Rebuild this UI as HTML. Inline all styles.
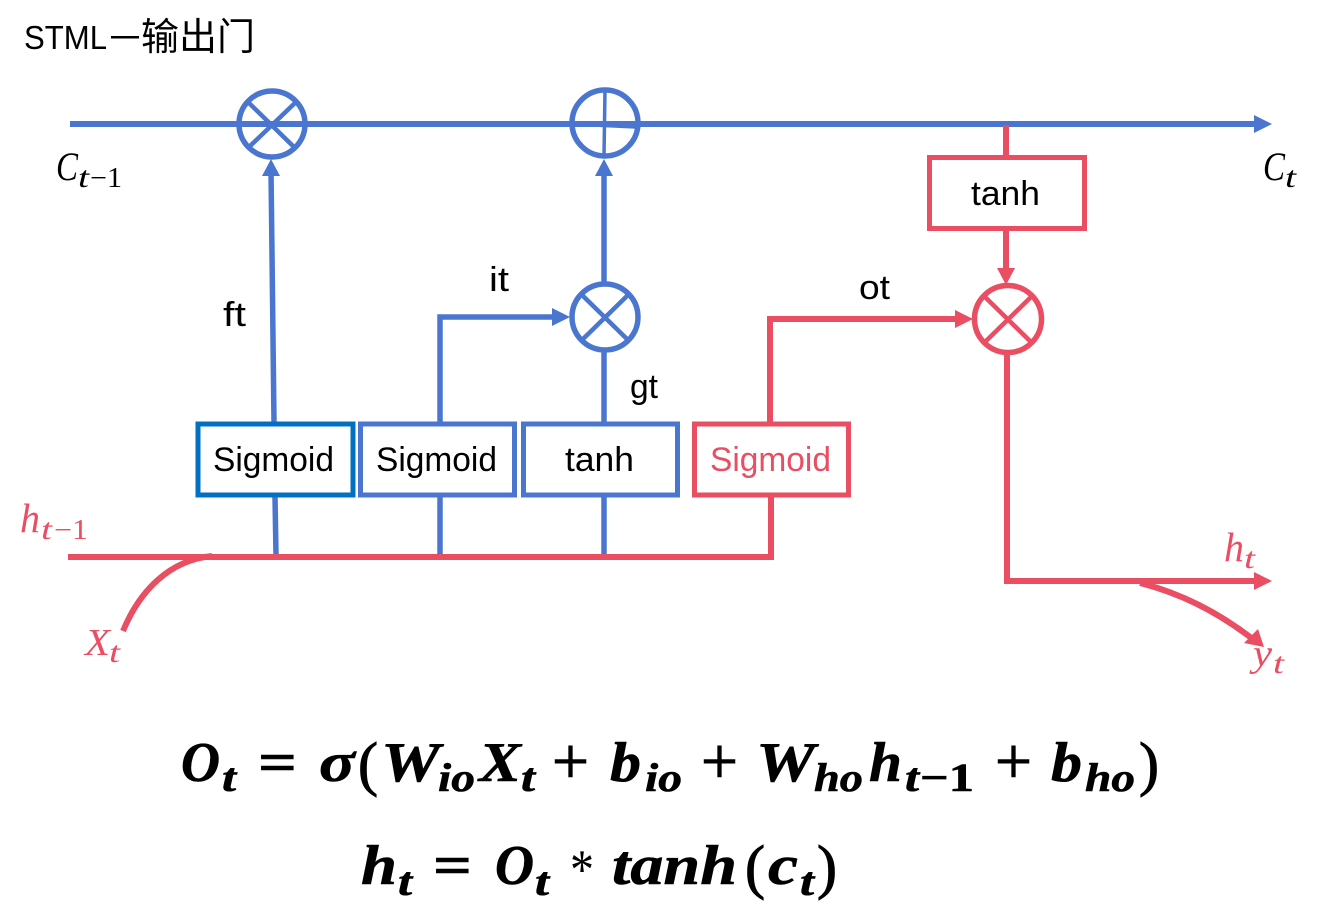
<!DOCTYPE html>
<html><head><meta charset="utf-8"><style>
html,body{margin:0;padding:0;background:#fff}
svg{display:block}
.s{font-family:"Liberation Sans","Noto Sans CJK SC",sans-serif;fill:#000}
.m{font-family:"Liberation Serif",serif;font-style:italic;fill:#000}
.e{font-family:"Liberation Serif",serif;font-style:italic;font-weight:bold;fill:#000;font-size:56px;stroke:#000;stroke-width:.6}
.n{font-style:normal}
.es{font-size:40px}
.big{font-size:66px;font-weight:normal;stroke-width:1}
.par{font-size:60px;font-weight:normal;stroke-width:1}
.b{stroke:#4a76cf;fill:none;stroke-width:5.500px}
.p{stroke:#e94e62;fill:none;stroke-width:6px}
.c5{stroke-width:5.500px}
.c4{stroke-width:4.500px}
.c3{stroke-width:3.500px}
.h6{stroke-width:6px}
.rt{fill:#e94e62}
</style></head><body>
<svg width="1327" height="908" viewBox="0 0 1327 908" xmlns="http://www.w3.org/2000/svg">
<rect width="1327" height="908" fill="#fff"/>
<text class="s" x="24" y="49" font-size="33" textLength="83" lengthAdjust="spacingAndGlyphs">STML</text>
<rect x="111" y="36" width="28" height="2.500" fill="#000"/>
<text class="s" x="141" y="50" font-size="38" textLength="114" lengthAdjust="spacingAndGlyphs">输出门</text>

<!-- blue -->
<path class="b h6" d="M70 124H1256"/>
<path d="M1254 115L1272 124L1254 133Z" fill="#4a76cf"/>
<ellipse class="b c5" cx="272" cy="124" rx="33" ry="33"/>
<path class="b c4" d="M248 102L295 148M296 102L248 148"/>
<ellipse class="b c5" cx="605" cy="123" rx="33" ry="33"/>
<path class="b c3" d="M572 124L636 127M605 90L604 156"/>
<ellipse class="b c5" cx="605" cy="317" rx="33" ry="33"/>
<path class="b c4" d="M582 295L628 340M628 295L582 340"/>
<path class="b" d="M274 422L271 170"/>
<path d="M262 176L271 159L280 176Z" fill="#4a76cf"/>
<path class="b" d="M604 283V172"/>
<path d="M595 176L604 159L613 176Z" fill="#4a76cf"/>
<path class="b" d="M440 422V317H556"/>
<path d="M552 308L570 317L552 326Z" fill="#4a76cf"/>
<path class="b" d="M604 352V422"/>
<path class="b" d="M275 497L276 555M440 497V555M604 497V555"/>

<!-- boxes -->
<rect x="198" y="424" width="155" height="71" fill="none" stroke="#0070c0" stroke-width="5"/>
<rect x="360.500" y="424" width="154" height="71" fill="none" stroke="#4a76cf" stroke-width="5"/>
<rect x="523.500" y="424" width="154" height="71" fill="none" stroke="#4a76cf" stroke-width="5"/>
<rect x="694.500" y="424" width="154" height="71" fill="none" stroke="#e94e62" stroke-width="5"/>
<rect x="929.500" y="157.500" width="155" height="71" fill="none" stroke="#e94e62" stroke-width="5"/>

<!-- red -->
<path class="p" d="M68 557H771V497"/>
<path class="p" d="M770 424V319H958"/>
<path d="M955 310L973 319L955 328Z" fill="#e94e62"/>
<path class="p" d="M1006 125V157M1006 231V272"/>
<path d="M997 268L1006 285L1015 268Z" fill="#e94e62"/>
<ellipse class="p c5" cx="1008" cy="319" rx="33.500" ry="33.500"/>
<path class="p c4" d="M985 297L1031 342M1031 297L985 342"/>
<path class="p" d="M1007 355V581H1256"/>
<path d="M1254 572L1272 581L1254 590Z" fill="#e94e62"/>
<path class="p" d="M123 631C140 590 170 560 212 556"/>
<path class="p" d="M1140 583Q1200 598 1254 640"/>
<path d="M1264 647L1258 629L1244 643Z" fill="#e94e62"/>

<!-- box labels -->
<g font-size="34">
<text class="s" x="213" y="471" textLength="121" lengthAdjust="spacingAndGlyphs">Sigmoid</text>
<text class="s" x="376" y="471" textLength="121" lengthAdjust="spacingAndGlyphs">Sigmoid</text>
<text class="s" x="565" y="471" textLength="69" lengthAdjust="spacingAndGlyphs">tanh</text>
<text class="s rt" x="710" y="471" textLength="121" lengthAdjust="spacingAndGlyphs" style="fill:#e94e62">Sigmoid</text>
<text class="s" x="971" y="205" textLength="69" lengthAdjust="spacingAndGlyphs">tanh</text>
<text class="s" x="223" y="326" textLength="23" lengthAdjust="spacingAndGlyphs">ft</text>
<text class="s" x="489" y="291" textLength="20" lengthAdjust="spacingAndGlyphs">it</text>
<text class="s" x="630" y="398" textLength="28" lengthAdjust="spacingAndGlyphs">gt</text>
<text class="s" x="859" y="299" textLength="31" lengthAdjust="spacingAndGlyphs">ot</text>
</g>

<!-- math labels -->
<text class="m" x="56" y="180" font-size="40" textLength="22" lengthAdjust="spacingAndGlyphs">C</text>
<text class="m" x="78" y="187" font-size="30" textLength="11" lengthAdjust="spacingAndGlyphs">t</text>
<text class="m n" x="90" y="187" font-size="28" textLength="32" lengthAdjust="spacingAndGlyphs">−1</text>
<text class="m" x="1263" y="180" font-size="40" textLength="22" lengthAdjust="spacingAndGlyphs">C</text>
<text class="m" x="1285" y="187" font-size="30" textLength="11" lengthAdjust="spacingAndGlyphs">t</text>
<text class="m rt" x="20" y="532" font-size="41" textLength="20" lengthAdjust="spacingAndGlyphs" style="fill:#e94e62">h</text>
<text class="m rt" x="41" y="539" font-size="30" textLength="11" lengthAdjust="spacingAndGlyphs" style="fill:#e94e62">t</text>
<text class="m n rt" x="54" y="539" font-size="28" textLength="34" lengthAdjust="spacingAndGlyphs" style="fill:#e94e62">−1</text>
<text class="m rt" x="85" y="655" font-size="38" textLength="25" lengthAdjust="spacingAndGlyphs" style="fill:#e94e62">X</text>
<text class="m rt" x="109" y="662" font-size="30" textLength="11" lengthAdjust="spacingAndGlyphs" style="fill:#e94e62">t</text>
<text class="m rt" x="1224" y="561" font-size="41" textLength="20" lengthAdjust="spacingAndGlyphs" style="fill:#e94e62">h</text>
<text class="m rt" x="1244" y="568" font-size="30" textLength="11" lengthAdjust="spacingAndGlyphs" style="fill:#e94e62">t</text>
<text class="m rt" x="1253" y="666" font-size="38" textLength="19" lengthAdjust="spacingAndGlyphs" style="fill:#e94e62">y</text>
<text class="m rt" x="1273" y="673" font-size="30" textLength="11" lengthAdjust="spacingAndGlyphs" style="fill:#e94e62">t</text>

<!-- equation 1 -->
<text class="e" x="181" y="781" textLength="39" lengthAdjust="spacingAndGlyphs">O</text>
<text class="e es" x="222" y="791" textLength="14" lengthAdjust="spacingAndGlyphs">t</text>
<text class="e n" x="258" y="781" textLength="39" lengthAdjust="spacingAndGlyphs">=</text>
<text class="e" x="319" y="781" textLength="36" lengthAdjust="spacingAndGlyphs">σ</text>
<text class="e n par" x="358" y="784" textLength="20" lengthAdjust="spacingAndGlyphs">(</text>
<text class="e" x="381" y="781" textLength="59" lengthAdjust="spacingAndGlyphs">W</text>
<text class="e es" x="438" y="791" textLength="37" lengthAdjust="spacingAndGlyphs">io</text>
<text class="e" x="479" y="781" textLength="42" lengthAdjust="spacingAndGlyphs">X</text>
<text class="e es" x="521" y="791" textLength="14" lengthAdjust="spacingAndGlyphs">t</text>
<text class="e n big" x="552" y="783" textLength="37" lengthAdjust="spacingAndGlyphs">+</text>
<text class="e" x="610" y="781" textLength="31" lengthAdjust="spacingAndGlyphs">b</text>
<text class="e es" x="645" y="791" textLength="37" lengthAdjust="spacingAndGlyphs">io</text>
<text class="e n big" x="701" y="783" textLength="37" lengthAdjust="spacingAndGlyphs">+</text>
<text class="e" x="756" y="781" textLength="59" lengthAdjust="spacingAndGlyphs">W</text>
<text class="e es" x="814" y="791" textLength="49" lengthAdjust="spacingAndGlyphs">ho</text>
<text class="e" x="869" y="781" textLength="33" lengthAdjust="spacingAndGlyphs">h</text>
<text class="e es" x="905" y="791" textLength="14" lengthAdjust="spacingAndGlyphs">t</text>
<text class="e es n" x="920" y="791" textLength="54" lengthAdjust="spacingAndGlyphs">−1</text>
<text class="e n big" x="995" y="783" textLength="37" lengthAdjust="spacingAndGlyphs">+</text>
<text class="e" x="1051" y="781" textLength="31" lengthAdjust="spacingAndGlyphs">b</text>
<text class="e es" x="1085" y="791" textLength="50" lengthAdjust="spacingAndGlyphs">ho</text>
<text class="e n par" x="1139" y="784" textLength="20" lengthAdjust="spacingAndGlyphs">)</text>

<!-- equation 2 -->
<text class="e" x="361" y="884" textLength="36" lengthAdjust="spacingAndGlyphs">h</text>
<text class="e es" x="398" y="895" textLength="14" lengthAdjust="spacingAndGlyphs">t</text>
<text class="e n" x="433" y="884" textLength="39" lengthAdjust="spacingAndGlyphs">=</text>
<text class="e" x="495" y="884" textLength="39" lengthAdjust="spacingAndGlyphs">O</text>
<text class="e es" x="535" y="895" textLength="14" lengthAdjust="spacingAndGlyphs">t</text>
<text class="e n" x="570" y="888" textLength="24" lengthAdjust="spacingAndGlyphs" style="font-weight:normal;stroke-width:0">*</text>
<text class="e" x="612" y="884" textLength="125" lengthAdjust="spacingAndGlyphs">tanh</text>
<text class="e n par" x="745" y="887" textLength="20" lengthAdjust="spacingAndGlyphs">(</text>
<text class="e" x="768" y="884" textLength="30" lengthAdjust="spacingAndGlyphs">c</text>
<text class="e es" x="800" y="895" textLength="14" lengthAdjust="spacingAndGlyphs">t</text>
<text class="e n par" x="817" y="887" textLength="20" lengthAdjust="spacingAndGlyphs">)</text>
</svg>
</body></html>
